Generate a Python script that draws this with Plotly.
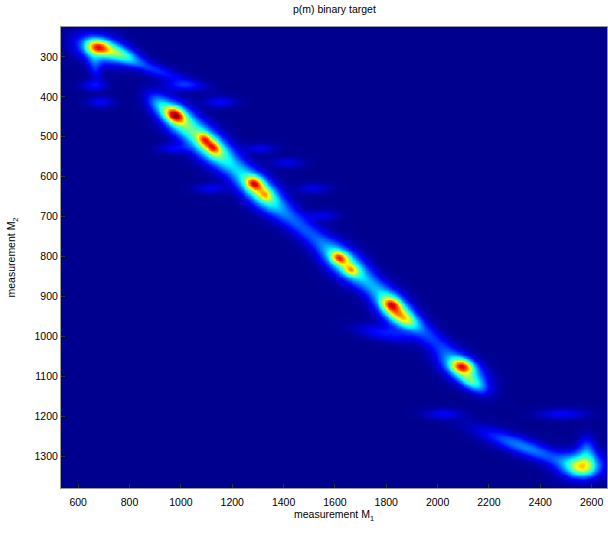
import numpy as np
import plotly.graph_objects as go

# ---- axis extents and ticks (data units) ----
x_range = [533, 2660]
y_range = [225, 1380]
x_ticks = [600, 800, 1000, 1200, 1400, 1600, 1800, 2000, 2200, 2400, 2600]
y_ticks = [300, 400, 500, 600, 700, 800, 900, 1000, 1100, 1200, 1300]

# ---- bright peaks of p(m): centre M1, centre M2, level at centre ----
peak_x = [675, 977, 1090, 1125, 1285, 1328, 1615, 1661, 1818, 2094, 2561]
peak_y = [274, 445, 505, 526, 616, 645, 802, 833, 919, 1074, 1328]
peak_level = [0.88, 1.00, 0.86, 0.88, 0.92, 0.72, 0.86, 0.74, 0.92, 0.90, 0.66]
peak_major = [8, 7, 5, 5.5, 6, 5, 6, 5, 6.5, 7.5, 9]    # spread along, px
peak_minor = [5, 5, 4, 4, 4.5, 4, 4, 3.5, 4.5, 4.5, 6]  # spread across, px
peak_angle = [10, 25, 35, 35, 20, 30, 20, 20, 15, 10, 0]  # deg, screen

# ---- faint halos, bands and streaks: centre, level, spreads (px), angle ----
halo_x = [690, 770, 880, 662,
          990, 1110, 1305, 1635, 1830, 1862, 2095, 2134,
          2555, 2580, 2336,
          918, 1200, 1470, 1740, 1960,
          658, 1008, 685, 1151, 2020, 2485,
          969, 1112, 1307, 1412, 1512, 1551, 1780]
halo_y = [280, 292, 327, 318,
          455, 522, 635, 815, 932, 952, 1080, 1115,
          1320, 1285, 1276,
          420, 570, 725, 870, 995,
          370, 370, 412, 412, 1193, 1193,
          528, 628, 528, 563, 628, 696, 990]
halo_level = [0.36, 0.24, 0.15, 0.14,
              0.36, 0.38, 0.36, 0.36, 0.36, 0.30, 0.36, 0.28,
              0.36, 0.18, 0.24,
              0.20, 0.18, 0.17, 0.17, 0.15,
              0.11, 0.12, 0.11, 0.11, 0.10, 0.11,
              0.10, 0.10, 0.09, 0.09, 0.09, 0.09, 0.12]
halo_major = [17, 13, 30, 11,
              17, 19, 19, 19, 17, 11, 17, 11,
              15, 10, 32,
              11, 42, 30, 30, 28,
              9, 13, 9, 11, 13, 17,
              11, 11, 11, 11, 11, 11, 18]
halo_minor = [9, 5, 4.5, 4.5,
              9.5, 10, 9.5, 9.5, 9.5, 5, 8.5, 5,
              9, 6, 6,
              6, 8, 7.5, 7.5, 7,
              3.5, 3.5, 3.5, 3.5, 3.5, 3.5,
              3.5, 3.5, 3.5, 3.5, 3.5, 3.5, 5]
halo_angle = [15, 20, 20, 80,
              40, 40, 40, 38, 45, 30, 30, 30,
              0, 88, 20,
              40, 41, 38, 40, 40,
              0, 0, 0, 0, 0, 0,
              0, 0, 0, 0, 0, 0, 10]

# pixel scale of each axis (px per data unit), used to shape the components
px_per_x = 0.2575
px_per_y = 0.3984


def bump(X, Y, cx, cy, smj, smn, ang):
    du = (np.asarray(X) - cx) * px_per_x
    dv = (np.asarray(Y) - cy) * px_per_y
    t = np.deg2rad(ang)
    p = du * np.cos(t) + dv * np.sin(t)
    q = -du * np.sin(t) + dv * np.cos(t)
    return np.exp(-0.5 * ((p / smj) ** 2 + (q / smn) ** 2))


halo = list(zip(halo_x, halo_y, halo_level, halo_major, halo_minor, halo_angle))
peaks = list(zip(peak_x, peak_y, peak_major, peak_minor, peak_angle))

# peak heights so that the total level at each peak centre matches the picture
base = np.array([sum(a * bump(px, py, cx, cy, mj, mn, an) for cx, cy, a, mj, mn, an in halo)
                 for px, py in zip(peak_x, peak_y)])
M = np.array([[bump(px, py, cx, cy, mj, mn, an) for cx, cy, mj, mn, an in peaks]
              for px, py in zip(peak_x, peak_y)])
peak_amp = np.linalg.solve(M, np.array(peak_level) - base)
peak_amp = np.clip(peak_amp, 0.05, None)

gx = np.linspace(x_range[0], x_range[1], 380)
gy = np.linspace(y_range[0], y_range[1], 320)
X, Y = np.meshgrid(gx, gy)
Z = np.zeros_like(X)
for cx, cy, a, mj, mn, an in halo:
    Z += a * bump(X, Y, cx, cy, mj, mn, an)
for (cx, cy, mj, mn, an), a in zip(peaks, peak_amp):
    Z += a * bump(X, Y, cx, cy, mj, mn, an)
Z = np.clip(Z, 0, 1)

jet = [[0.0, "rgb(0,0,143)"], [0.111, "rgb(0,0,255)"], [0.365, "rgb(0,255,255)"],
       [0.619, "rgb(255,255,0)"], [0.873, "rgb(255,0,0)"], [1.0, "rgb(128,0,0)"]]

fig = go.Figure(go.Heatmap(x=gx, y=gy, z=Z, colorscale=jet, zmin=0, zmax=1,
                           zsmooth="best", showscale=False, hoverinfo="skip"))

font = "Liberation Sans, Arial, Helvetica, sans-serif"
fig.update_layout(
    width=608, height=533,
    margin=dict(l=61, r=1, t=27, b=45),
    paper_bgcolor="white", plot_bgcolor="white",
    font=dict(family=font, size=10.5, color="black"),
    title=dict(text="p(m) binary target", x=0.55, xanchor="center", y=0.99, yanchor="top",
               font=dict(size=10.5, color="black")),
)
fig.update_xaxes(range=x_range, tickvals=x_ticks, ticks="inside", ticklen=4, tickcolor="#333",
                 showgrid=False, zeroline=False, showline=True, linecolor="#999", mirror=True,
                 automargin=False, ticklabelstandoff=4,
                 title=dict(text="measurement M<sub>1</sub>", standoff=4, font=dict(size=10.5)))
fig.update_yaxes(range=[y_range[1], y_range[0]], tickvals=y_ticks, ticks="inside", ticklen=4, tickcolor="#333",
                 showgrid=False, zeroline=False, showline=True, linecolor="#999", mirror=True,
                 automargin=False,
                 title=dict(text="measurement M<sub>2</sub>", standoff=16, font=dict(size=10.5)))

fig.write_html("out.html", config={"displayModeBar": False},
               post_script="document.body.style.margin='0';")
